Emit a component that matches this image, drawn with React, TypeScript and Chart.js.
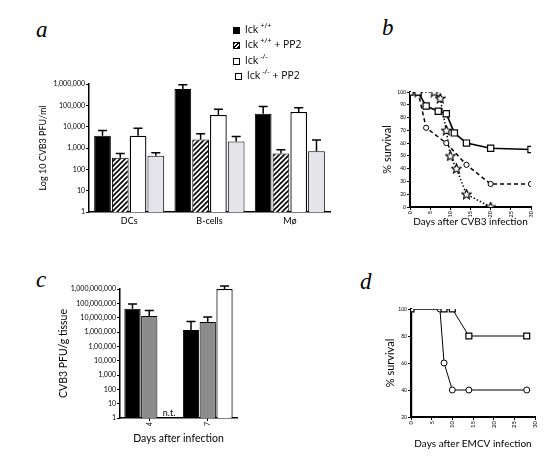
import React, { useEffect, useRef } from "react";
import { Chart, registerables } from "chart.js";

Chart.register(...registerables);

const FONT = "Lato, 'Open Sans', sans-serif";
const LEGEND_FONT = "'Open Sans', 'Noto Sans', sans-serif";

// ---------- Panel a ----------
const aCategories = ["DCs", "B-cells", "Mø"];
const aWT = [3800, 590000, 40000];
const aWTErr = [6600, 930000, 87000];
const aWTPP2 = [345, 2500, 550];
const aWTPP2Err = [550, 4600, 830];
const aKO = [3800, 35000, 49000];
const aKOErr = [8400, 66000, 78000];
const aKOPP2 = [430, 2000, 700];
const aKOPP2Err = [600, 3500, 2400];
const aTickValues = [1, 10, 100, 1000, 10000, 100000, 1000000];
const aTickLabels = ["1", "10", "100", "1,000", "10,000", "100,000", "1,000,000"];

const legendItems = [
  { name: "lck", sup: "+/+", suffix: "" },
  { name: "lck", sup: "+/+", suffix: " + PP2" },
  { name: "lck", sup: "-/-", suffix: "" },
  { name: "lck", sup: "-/-", suffix: " + PP2" },
];

// ---------- Panel b ----------
const bSquareX = [0, 2, 4, 7, 9, 11, 14, 20, 30];
const bSquareY = [100, 100, 89, 85, 83, 68, 60, 56, 55];
const bCircleX = [0, 2, 4, 9, 14, 20, 30];
const bCircleY = [100, 100, 72, 60, 43, 28, 28];
const bStarX = [2, 6, 7.5, 9, 10, 11.5, 14, 20];
const bStarY = [100, 100, 95, 70, 50, 40, 20, 10];
const bYTickValues = [10, 20, 30, 40, 50, 60, 70, 80, 90, 100];
const bYTickLabels = ["0", "20", "30", "40", "50", "60", "70", "80", "90", "100"];

// ---------- Panel c ----------
const cCategories = ["4", "7"];
const cBlack = [42000000, 1400000];
const cBlackErr = [90000000, 5500000];
const cGray = [13000000, 5000000];
const cGrayErr = [31000000, 11000000];
const cWhite = [null, 1000000000];
const cWhiteErr = [null, 1600000000];
const cTickValues = [1, 10, 100, 1e3, 1e4, 1e5, 1e6, 1e7, 1e8, 1e9];
const cTickLabels = [
  "1", "10", "100", "1,000", "10,000", "1,00,000",
  "1,000,000", "10,000,000", "100,000,000", "1,000,000,000",
];

// ---------- Panel d ----------
const dSquareX = [0, 8, 10, 14, 28];
const dSquareY = [100, 100, 100, 80, 80];
const dCircleX = [0, 7, 8, 10, 14, 28];
const dCircleY = [100, 100, 60, 40, 40, 40];

const toPoints = (xs: number[], ys: number[]) => xs.map((x, i) => ({ x, y: ys[i] }));

const errorBarPlugin = {
  id: "errorBars",
  afterDatasetsDraw(chart: any) {
    const ctx = chart.ctx;
    const yScale = chart.scales.y;
    chart.data.datasets.forEach((ds: any, i: number) => {
      const errs = ds.errors;
      if (!errs) return;
      const meta = chart.getDatasetMeta(i);
      meta.data.forEach((bar: any, j: number) => {
        const e = errs[j];
        const v = ds.data[j];
        if (e == null || v == null) return;
        const top = yScale.getPixelForValue(e);
        const x = bar.x;
        const cap = 4.5;
        ctx.save();
        ctx.strokeStyle = "#000";
        ctx.lineWidth = 1.5;
        ctx.beginPath();
        ctx.moveTo(x, bar.y);
        ctx.lineTo(x, top);
        ctx.moveTo(x - cap, top);
        ctx.lineTo(x + cap, top);
        ctx.stroke();
        ctx.restore();
      });
    });
  },
};

const ntPlugin = {
  id: "ntLabel",
  afterDatasetsDraw(chart: any) {
    const meta = chart.getDatasetMeta(2);
    const el = meta.data[0];
    if (!el) return;
    const ctx = chart.ctx;
    ctx.save();
    ctx.fillStyle = "#000";
    ctx.font = `9px ${FONT}`;
    ctx.textAlign = "center";
    ctx.textBaseline = "alphabetic";
    ctx.fillText("n.t.", el.x + 3, chart.chartArea.bottom - 2);
    ctx.restore();
  },
};

function makeHatch() {
  const c = document.createElement("canvas");
  c.width = 5;
  c.height = 5;
  const g = c.getContext("2d")!;
  g.fillStyle = "#fff";
  g.fillRect(0, 0, 5, 5);
  g.strokeStyle = "#000";
  g.lineWidth = 1.6;
  g.beginPath();
  g.moveTo(0, 5);
  g.lineTo(5, 0);
  g.moveTo(-1, 1);
  g.lineTo(1, -1);
  g.moveTo(4, 6);
  g.lineTo(6, 4);
  g.stroke();
  return g.createPattern(c, "repeat");
}

function makeStar() {
  const size = 11;
  const c = document.createElement("canvas");
  c.width = size;
  c.height = size;
  const g = c.getContext("2d")!;
  const cx = size / 2, cy = size / 2 + 0.3, R = 5, r = 2.3;
  g.beginPath();
  for (let k = 0; k < 10; k++) {
    const rad = k % 2 === 0 ? R : r;
    const ang = -Math.PI / 2 + (k * Math.PI) / 5;
    const px = cx + rad * Math.cos(ang);
    const py = cy + rad * Math.sin(ang);
    if (k === 0) g.moveTo(px, py);
    else g.lineTo(px, py);
  }
  g.closePath();
  g.fillStyle = "#fff";
  g.fill();
  g.strokeStyle = "#000";
  g.lineWidth = 1.1;
  g.stroke();
  return c;
}

function ChartBox({ left, top, width, height, build }: any) {
  const ref = useRef<HTMLCanvasElement>(null);
  useEffect(() => {
    const chart = new Chart(ref.current!, build());
    return () => chart.destroy();
  }, []);
  return (
    <canvas
      ref={ref}
      width={width}
      height={height}
      style={{ position: "absolute", left, top, width, height }}
    />
  );
}

const tickFont = (size: number) => ({ family: FONT, size });

function buildA() {
  const hatch = makeHatch();
  return {
    type: "bar",
    data: {
      labels: aCategories,
      datasets: [
        { label: "lck +/+", data: aWT, errors: aWTErr, backgroundColor: "#000", borderColor: "#000", borderWidth: 1 },
        { label: "lck +/+ + PP2", data: aWTPP2, errors: aWTPP2Err, backgroundColor: hatch, borderColor: "#000", borderWidth: 1 },
        { label: "lck -/-", data: aKO, errors: aKOErr, backgroundColor: "#fff", borderColor: "#000", borderWidth: 1.3 },
        { label: "lck -/- + PP2", data: aKOPP2, errors: aKOPP2Err, backgroundColor: "#e4e4ea", borderColor: "#000", borderWidth: 1 },
      ],
    },
    options: {
      responsive: false,
      animation: false,
      layout: { padding: { top: 9, right: 10, left: 0, bottom: 0 } },
      datasets: { bar: { categoryPercentage: 0.885, barPercentage: 0.94 } },
      plugins: { legend: { display: false }, tooltip: { enabled: false } },
      scales: {
        x: {
          grid: { display: false, drawTicks: false },
          border: { color: "#000", width: 1.5 },
          ticks: { color: "#000", font: tickFont(9), padding: 4 },
          afterFit: (s: any) => { s.height = 15; },
        },
        y: {
          type: "logarithmic",
          min: 1,
          max: 1000000,
          afterBuildTicks: (s: any) => { s.ticks = aTickValues.map((v) => ({ value: v })); },
          ticks: { color: "#000", font: tickFont(7), padding: 1, autoSkip: false, callback: (_v: any, i: number) => aTickLabels[i] },
          grid: { drawOnChartArea: false, drawTicks: true, tickLength: 3, color: "#000", lineWidth: 1 },
          border: { color: "#000", width: 1.5 },
          title: { display: true, text: "Log 10 CVB3 PFU/ml", color: "#000", font: tickFont(9), padding: 4 },
          afterFit: (s: any) => { s.width = 55; },
        },
      },
    },
    plugins: [errorBarPlugin],
  };
}

function buildB() {
  const star = makeStar();
  return {
    type: "line",
    data: {
      datasets: [
        {
          data: toPoints(bSquareX, bSquareY), borderColor: "#000", borderWidth: 1.6,
          pointStyle: "rect", pointRadius: 4.4, pointBackgroundColor: "#fff", pointBorderColor: "#000", pointBorderWidth: 1.2,
        },
        {
          data: toPoints(bCircleX, bCircleY), borderColor: "#000", borderWidth: 1.5, borderDash: [4, 3],
          pointStyle: "circle", pointRadius: 2.6, pointBackgroundColor: "#fff", pointBorderColor: "#000", pointBorderWidth: 1,
        },
        {
          data: toPoints(bStarX, bStarY), borderColor: "#000", borderWidth: 1.5, borderDash: [1.5, 2],
          pointStyle: star, pointRadius: 4, pointBackgroundColor: "#fff", pointBorderColor: "#000",
        },
      ],
    },
    options: {
      responsive: false,
      animation: false,
      layout: { padding: { top: 8, right: 14, left: 0, bottom: 0 } },
      plugins: { legend: { display: false }, tooltip: { enabled: false } },
      scales: {
        x: {
          type: "linear", min: 0, max: 30,
          ticks: { stepSize: 5, color: "#000", font: tickFont(5.5), padding: 1, maxRotation: 90, minRotation: 90 },
          grid: { drawOnChartArea: false, drawTicks: true, tickLength: 3, color: "#000" },
          border: { color: "#000", width: 2 },
          title: { display: true, text: "Days after CVB3 infection", color: "#000", font: tickFont(10), padding: 4 },
          afterFit: (s: any) => { s.height = 25; },
        },
        y: {
          type: "linear", min: 10, max: 100,
          afterBuildTicks: (s: any) => { s.ticks = bYTickValues.map((v) => ({ value: v })); },
          ticks: { color: "#000", font: tickFont(5), padding: 1, autoSkip: false, callback: (_v: any, i: number) => bYTickLabels[i] },
          grid: { drawOnChartArea: false, drawTicks: true, tickLength: 3, color: "#000" },
          border: { color: "#000", width: 2 },
          title: { display: true, text: "% survival", color: "#000", font: tickFont(11), padding: 4 },
          afterFit: (s: any) => { s.width = 33; },
        },
      },
    },
  };
}

function buildC() {
  return {
    type: "bar",
    data: {
      labels: cCategories,
      datasets: [
        { data: cBlack, errors: cBlackErr, backgroundColor: "#000", borderColor: "#000", borderWidth: 1 },
        { data: cGray, errors: cGrayErr, backgroundColor: "#8c8c8c", borderColor: "#000", borderWidth: 1 },
        { data: cWhite, errors: cWhiteErr, backgroundColor: "#fff", borderColor: "#000", borderWidth: 1.2 },
      ],
    },
    options: {
      responsive: false,
      animation: false,
      layout: { padding: { top: 9, right: 8, left: 0, bottom: 0 } },
      datasets: { bar: { categoryPercentage: 0.86, barPercentage: 0.97 } },
      plugins: { legend: { display: false }, tooltip: { enabled: false } },
      scales: {
        x: {
          grid: { drawOnChartArea: false, drawTicks: true, tickLength: 3, color: "#000", offset: false },
          border: { color: "#000", width: 1.5 },
          ticks: { color: "#000", font: tickFont(7), padding: 1, maxRotation: 90, minRotation: 90 },
          title: { display: true, text: "Days after infection", color: "#000", font: tickFont(10.5), padding: 4 },
          afterFit: (s: any) => { s.height = 31; },
        },
        y: {
          type: "logarithmic",
          min: 1,
          max: 1000000000,
          afterBuildTicks: (s: any) => { s.ticks = cTickValues.map((v) => ({ value: v })); },
          ticks: { color: "#000", font: tickFont(7), padding: 1, autoSkip: false, callback: (_v: any, i: number) => cTickLabels[i] },
          grid: { drawOnChartArea: false, drawTicks: true, tickLength: 3, color: "#000" },
          border: { color: "#000", width: 1.5 },
          title: { display: true, text: "CVB3 PFU/g tissue", color: "#000", font: tickFont(10.5), padding: 4 },
          afterFit: (s: any) => { s.width = 67; },
        },
      },
    },
    plugins: [errorBarPlugin, ntPlugin],
  };
}

function buildD() {
  return {
    type: "line",
    data: {
      datasets: [
        {
          data: toPoints(dSquareX, dSquareY), borderColor: "#000", borderWidth: 1,
          pointStyle: "rect", pointRadius: 4.2, pointBackgroundColor: "#fff", pointBorderColor: "#000", pointBorderWidth: 1.2,
        },
        {
          data: toPoints(dCircleX, dCircleY), borderColor: "#000", borderWidth: 1,
          pointStyle: "circle", pointRadius: 3, pointBackgroundColor: "#fff", pointBorderColor: "#000", pointBorderWidth: 1,
        },
      ],
    },
    options: {
      responsive: false,
      animation: false,
      layout: { padding: { top: 9, right: 13, left: 0, bottom: 0 } },
      plugins: { legend: { display: false }, tooltip: { enabled: false } },
      scales: {
        x: {
          type: "linear", min: 0, max: 30,
          ticks: { stepSize: 5, color: "#000", font: tickFont(6), padding: 1, maxRotation: 90, minRotation: 90 },
          grid: { drawOnChartArea: false, drawTicks: true, tickLength: 3, color: "#000" },
          border: { color: "#000", width: 2 },
          title: { display: true, text: "Days after EMCV infection", color: "#000", font: tickFont(10), padding: 4 },
          afterFit: (s: any) => { s.height = 37; },
        },
        y: {
          type: "linear", min: 20, max: 100,
          ticks: { stepSize: 20, color: "#000", font: tickFont(5), padding: 1 },
          grid: { drawOnChartArea: false, drawTicks: true, tickLength: 3, color: "#000" },
          border: { color: "#000", width: 2.2 },
          title: { display: true, text: "% survival", color: "#000", font: tickFont(11), padding: 4 },
          afterFit: (s: any) => { s.width = 31; },
        },
      },
    },
  };
}

const letterStyle = (left: number, top: number): React.CSSProperties => ({
  position: "absolute",
  left,
  top,
  fontFamily: "'Liberation Serif', 'DejaVu Serif', serif",
  fontStyle: "italic",
  fontSize: 23,
  lineHeight: "23px",
  color: "#000",
});

const markerStyles: React.CSSProperties[] = [
  { background: "#000", border: "1px solid #000" },
  { background: "repeating-linear-gradient(135deg, #000 0 1.2px, #fff 1.2px 2.6px)", border: "1px solid #000" },
  { background: "#fff", border: "1.2px solid #000" },
  { background: "#fff", border: "1px solid #000" },
];
const legendRowTops = [22, 37, 53, 68];
const legendMarkerLefts = [233, 233, 233, 235];
const legendTextLefts = [245, 245, 245, 247];

export default function App() {
  return (
    <div
      style={{
        position: "fixed",
        left: 0,
        top: 0,
        width: 560,
        height: 465,
        background: "#fff",
        overflow: "hidden",
        fontFamily: FONT,
        color: "#000",
      }}
    >
      <div style={letterStyle(36, 18)}>a</div>
      <div style={letterStyle(382, 16)}>b</div>
      <div style={letterStyle(36, 268)}>c</div>
      <div style={letterStyle(360, 270)}>d</div>

      {legendItems.map((it, i) => (
        <React.Fragment key={i}>
          <div
            style={{
              position: "absolute",
              left: legendMarkerLefts[i],
              top: legendRowTops[i] + 5,
              width: 5,
              height: 5,
              ...markerStyles[i],
            }}
          />
          <div
            style={{
              position: "absolute",
              left: legendTextLefts[i],
              top: legendRowTops[i],
              fontFamily: LEGEND_FONT,
              fontSize: 10.5,
              lineHeight: "14px",
              whiteSpace: "nowrap",
              color: "#000",
              willChange: "transform",
            }}
          >
            {it.name}
            <span style={{ fontSize: 7.5, position: "relative", top: -5, marginLeft: 2 }}>{it.sup}</span>
            {it.suffix}
          </div>
        </React.Fragment>
      ))}

      <ChartBox left={34} top={75} width={306} height={152} build={buildA} />
      <ChartBox left={377} top={84} width={168} height={148} build={buildB} />
      <ChartBox left={53} top={280} width={192} height={169} build={buildC} />
      <ChartBox left={380} top={300} width={168} height={154} build={buildD} />
    </div>
  );
}
